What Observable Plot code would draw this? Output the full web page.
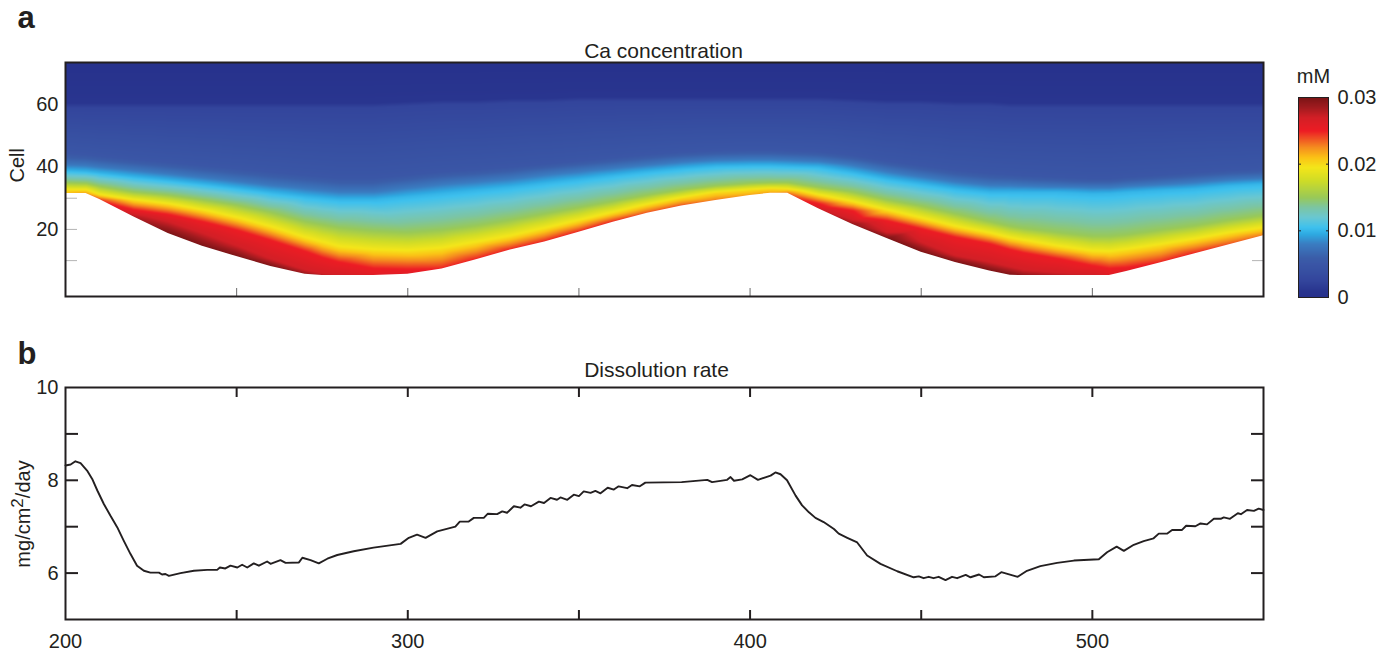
<!DOCTYPE html>
<html><head><meta charset="utf-8">
<script src="https://cdn.jsdelivr.net/npm/d3@7"></script>
<script src="https://cdn.jsdelivr.net/npm/@observablehq/plot@0.6"></script>
<style>
body{margin:0;background:#fff;}
#root{position:relative;width:1397px;height:658px;overflow:hidden;font-family:"Liberation Sans",Arial,Helvetica,sans-serif;color:#231f20}
.abs{position:absolute}
</style></head><body><div id="root"></div>
<script>
// ---------- Panel a: Ca concentration ----------
const colX = [200,206,210,220,230,240,250,260,270,275,280,290,300,310,320,330,340,350,360,370,380,390,400,406,411,420,430,440,450,460,470,476,480,490,500,505,510,520,530,540,550];
// lower edge of the coloured field (cell)
const boundary = [31.5,31.5,29.6,24,18.7,14.6,11.3,8.1,5.6,5.2,5.2,5.2,5.6,7.3,10.3,13.4,16,19.1,22.3,25.2,27.5,29.3,30.9,31.6,31.6,26.6,21.6,17.1,12.7,9.4,6.7,5.3,5.2,5.2,5.2,5.2,6.5,9.3,12.2,15.1,18];
// concentration (mM) at that edge
const boundaryConc = [0.021,0.022,0.024,0.028,0.03,0.03,0.03,0.03,0.029,0.028,0.027,0.026,0.026,0.025,0.025,0.025,0.025,0.025,0.025,0.024,0.024,0.023,0.022,0.022,0.023,0.027,0.029,0.03,0.03,0.03,0.03,0.03,0.029,0.028,0.027,0.026,0.026,0.025,0.025,0.024,0.023];
// heights (cell) where the concentration falls to the given level
const h027 = [null,null,null,24.8,22.5,18.8,14.8,10.5,7,5.8,null,null,null,null,null,null,null,null,null,null,null,null,null,null,null,null,23,19,15.9,11.6,9.5,8,7,6,null,null,null,null,null,null,null];
const h025 = [null,null,null,26.3,24.8,22.5,19.8,16.5,13,11,9.5,7.5,7.2,null,null,null,null,null,null,null,null,null,null,null,null,28.3,26,22.8,20.2,17.5,15.4,13.5,12.5,10.6,8.4,7.5,7.8,null,null,null,null];
const h020 = [32.5,32.5,31,29.3,28,26,23.5,20.5,17,15.5,14,13,12.7,13.5,15.5,17.5,20,22.6,25.2,27.8,30,31.8,32.6,33,32.8,30.9,28.7,26,23.4,20.7,18.6,17,16.2,14.3,12.7,12.5,13.2,14.8,16.6,18.6,20.2];
const h015 = [35,34.8,33.8,32,31,29.5,27.8,25.5,22.5,21.5,20.5,19.5,19,19.8,21.2,23,25,27,29,31,32.7,34,34.8,35,35,33.5,32,29.5,27.5,25,22.5,21,20.3,19,17.8,17.8,18.3,19.8,21.2,23,24.5];
const h010 = [38.8,38.5,38,36.8,35.7,34.5,33.2,31.8,30.5,30,29.5,29.5,30.5,31.5,32.5,33.5,34.8,36,37.3,38.5,39.5,40.3,40.5,40.5,40.3,40,38.3,36.2,34.6,33,31.9,31.9,31.9,31.9,31.4,31.5,31.9,32.5,33,34,34.6];
const h0075 = [41,40.8,40.3,39.3,38.2,37,35.8,34.5,33.5,33,32.5,32.5,33.8,35,35.8,36.7,38,39,40,41,42,42.6,42.8,42.8,42.6,42.2,41,39,37.3,35.7,34.6,34.5,34.3,34,33.8,33.8,34.2,34.8,35.5,36.3,36.7];
const h005 = [44.5,44,43.5,42.5,41.5,40.5,39.5,38.5,37.5,37,36.5,36.5,37.5,38.5,39.2,40,41,42,43,44,44.8,45.3,45.5,45.5,45.3,45,43.8,42,40.5,39,38,37.6,37.3,36.8,36.3,36.3,36.8,37.5,38.3,39,39.4];
const h0025 = [59,59,59,59,59,59,59,59,59,59,59,59,59.5,60,60,60.5,60.5,61,61,61,61,61,61,61,61,61,60.5,60,60,59.5,59.5,59,59,59,59,59,59,59,59,59,59];
const h001 = [60.5,60.5,60.5,60.5,60.5,60.5,60.5,60.5,60.5,60.5,60.5,60.5,61,61.5,61.5,62,62,62.5,62.5,62.5,62.5,62.5,62.5,62.5,62.5,62.5,62,61.5,61.5,61,61,60.5,60.5,60.5,60.5,60.5,60.5,60.5,60.5,60.5,60.5];
const levels = [0.027,0.025,0.02,0.015,0.01,0.0075,0.005,0.0025,0.001];
const levelHeights = [h027,h025,h020,h015,h010,h0075,h005,h0025,h001];
const topCell = 74, topConc = 0.0003;
const cellDomain = [-1.5, 73.5];
const cellTicks = [20,40,60];

// colour map (print jet) and colour-bar ticks
const colorStops = [0,0.001,0.0025,0.004,0.005,0.006,0.008,0.0095,0.0105,0.012,0.0135,0.015,0.0175,0.0195,0.021,0.0225,0.024,0.025,0.027,0.0285,0.03];
const colorHex = ["#26308b","#29358f","#33459c","#3750a2","#3a56a6","#3a5ea9","#3a7cc1","#2eaae2","#3ec1ee","#69c7d2","#7cc5a3","#99c957","#cfdc27","#f4e61a","#fbc216","#f58d1f","#ef4a24","#ed1c24","#d21f26","#a01b1f","#7a1416"];
const barTicks = [0,0.01,0.02,0.03];

// ---------- Panel b: Dissolution rate ----------
const rateX = [200,201.5,202.9,204.4,206.3,207.8,209.3,211.2,213.1,215.1,217,219,220.9,222.9,224.8,227.3,228.2,229.2,230.2,233.6,237.5,241.4,244.3,245.1,246.7,248.2,250.2,251.6,253.1,255,256.5,258.9,259.9,262.8,264.3,268.2,269.2,271.6,274,276.5,279.4,284.2,290,297.9,300.3,302.7,305.2,308.6,313.9,315.2,317.8,319.3,322.2,323.4,326.1,327.6,329,331,332.9,334.1,336,338.3,339.8,341.7,343.6,344.6,346.6,348.5,350,351.4,353.4,354.8,356.3,358.4,360.2,361.6,364.1,365.5,367.8,369.4,380,387.5,388.9,393.3,394.3,395.3,397.7,400.1,402.3,406,407.4,408.9,410.8,413.3,415.2,417.2,419.1,421.5,424.5,425.9,428.4,431.3,434.2,438.1,443,447.8,449.3,450.7,452.2,453.6,455.1,457.1,459,460.5,463,464.4,466.9,468.3,471.7,473.4,478.2,480.9,484.8,489.7,494.6,501.9,504.3,507.1,509.2,512.1,515,517.9,519.4,521.8,523.3,526.2,527.4,530.1,531.6,533.5,535.5,537.5,538.4,540.2,542.5,543.4,545.2,547.2,548.6,550];
const rateY = [8.32,8.34,8.41,8.37,8.21,8.03,7.78,7.49,7.24,6.99,6.7,6.41,6.16,6.05,6.01,6.01,5.97,5.98,5.94,6,6.05,6.07,6.07,6.12,6.1,6.16,6.12,6.18,6.12,6.21,6.16,6.25,6.2,6.28,6.22,6.23,6.33,6.28,6.21,6.31,6.39,6.47,6.55,6.63,6.76,6.83,6.76,6.9,7,7.11,7.11,7.19,7.19,7.28,7.27,7.33,7.3,7.44,7.41,7.48,7.44,7.54,7.51,7.62,7.58,7.63,7.58,7.69,7.66,7.76,7.73,7.77,7.72,7.84,7.8,7.87,7.83,7.9,7.87,7.95,7.96,8.01,7.96,8.01,8.07,7.99,8.02,8.11,8.01,8.1,8.17,8.13,8,7.67,7.46,7.31,7.19,7.1,6.95,6.85,6.76,6.66,6.38,6.2,6.04,5.91,5.93,5.89,5.92,5.89,5.92,5.85,5.92,5.89,5.96,5.91,5.97,5.91,5.93,6.02,5.92,6.05,6.15,6.22,6.27,6.3,6.45,6.57,6.48,6.61,6.69,6.75,6.85,6.85,6.93,6.93,7.02,7.01,7.07,7.05,7.17,7.17,7.2,7.17,7.29,7.27,7.36,7.34,7.39,7.36];
const rateDomain = [5, 10];
const rateTickLabels = [6, 8, 10];
const rateMinorTicks = [6, 7, 8, 9];
const xDomain = [200, 550];
const xTickLabels = [200, 300, 400, 500];
const xMinorTicks = [250, 300, 350, 400, 450, 500];

// ---------- build tables ----------
const heat = [];
colX.forEach((x, i) => {
  heat.push({x, y: boundary[i], v: boundaryConc[i]});
  levels.forEach((v, k) => { const h = levelHeights[k][i]; if (h != null) heat.push({x, y: h, v}); });
  heat.push({x, y: topCell, v: topConc});
});
const edge = colX.map((x, i) => ({x, b: boundary[i]}));
const rate = rateX.map((x, i) => ({x, y: rateY[i]}));

const ink = "#231f20";
const font = '"Liberation Sans", Arial, Helvetica, sans-serif';
const colorScale = {type: "linear", domain: colorStops, range: colorHex, clamp: true};
const root = document.getElementById("root");
function place(node, left, top) { const d = document.createElement("div"); d.className = "abs"; d.style.left = left + "px"; d.style.top = top + "px"; d.appendChild(node); root.appendChild(d); }

const plotA = Plot.plot({
  width: 1280, height: 310, marginLeft: 65, marginRight: 17, marginTop: 62, marginBottom: 14,
  x: {domain: xDomain},
  y: {domain: cellDomain},
  color: colorScale,
  style: {fontFamily: font, fontSize: "20px", color: ink, background: "transparent", overflow: "visible"},
  marks: [
    Plot.raster(heat, {x: "x", y: "y", fill: "v", interpolate: "barycentric", pixelSize: 1}),
    Plot.areaY(edge, {x: "x", y1: cellDomain[0], y2: "b", fill: "white"}),
    Plot.axisY([10, 20, 30], {anchor: "left", tickSize: -12, stroke: "#b4b4b4", fill: "none"}),
    Plot.axisY([10], {anchor: "right", tickSize: -12, stroke: "#b4b4b4", fill: "none"}),
    Plot.axisX(xMinorTicks, {anchor: "bottom", tickSize: -8, stroke: "#6a6a6a", fill: "none"}),
    Plot.axisY(cellTicks, {anchor: "left", tickSize: 0, tickPadding: 7, label: null}),
    Plot.frame({stroke: ink, strokeWidth: 2}),
    Plot.text(["Cell"], {frameAnchor: "left", dx: -48, dy: 3, rotate: -90, fontSize: 20}),
    Plot.text(["Ca concentration"], {frameAnchor: "top", dy: -19, dx: -1, fontSize: 21}),
    Plot.text(["a"], {frameAnchor: "top-left", dx: -48, dy: -35, textAnchor: "start", lineAnchor: "bottom", fontSize: 31, fontWeight: "bold"})
  ]
});
place(plotA, 0, 0);

const bar = Plot.plot({
  width: 117, height: 270, marginLeft: 18, marginRight: 69, marginTop: 57, marginBottom: 13,
  x: {domain: [0, 1], axis: null},
  y: {domain: [0, 0.03]},
  color: colorScale,
  style: {fontFamily: font, fontSize: "20px", color: ink, background: "transparent", overflow: "visible"},
  marks: [
    Plot.raster({fill: (x, y) => y, x1: 0, x2: 1, y1: 0, y2: 0.03, pixelSize: 1}),
    Plot.axisY([0.01, 0.02], {anchor: "left", tickSize: -3, stroke: ink, fill: "none"}),
    Plot.axisY([0.01, 0.02], {anchor: "right", tickSize: -3, stroke: ink, fill: "none"}),
    Plot.axisY(barTicks, {anchor: "right", tickSize: 0, tickPadding: 9, label: null, tickFormat: d => d === 0 ? "0" : d3.format(".2f")(d)}),
    Plot.frame({stroke: ink, strokeWidth: 1}),
    Plot.text(["mM"], {frameAnchor: "top", dy: -29, fontSize: 20})
  ]
});
place(bar, 1280, 40);

const plotB = Plot.plot({
  width: 1280, height: 338, marginLeft: 65, marginRight: 17, marginTop: 67, marginBottom: 39,
  x: {domain: xDomain},
  y: {domain: rateDomain},
  style: {fontFamily: font, fontSize: "20px", color: ink, background: "transparent", overflow: "visible"},
  marks: [
    Plot.line(rate, {x: "x", y: "y", stroke: ink, strokeWidth: 1.9, strokeLinejoin: "round"}),
    Plot.axisY(rateMinorTicks, {anchor: "left", tickSize: -13, strokeWidth: 2, stroke: ink, fill: "none"}),
    Plot.axisY(rateMinorTicks, {anchor: "right", tickSize: -13, strokeWidth: 2, stroke: ink, fill: "none"}),
    Plot.axisX(xMinorTicks, {anchor: "bottom", tickSize: -9, strokeWidth: 2, stroke: ink, fill: "none"}),
    Plot.axisX(xMinorTicks, {anchor: "top", tickSize: -9, strokeWidth: 2, stroke: ink, fill: "none"}),
    Plot.axisY(rateTickLabels, {anchor: "left", tickSize: 0, tickPadding: 7, label: null}),
    Plot.axisX(xTickLabels, {anchor: "bottom", tickSize: 0, tickPadding: 14, label: null}),
    Plot.frame({stroke: ink, strokeWidth: 2}),
    Plot.text(["Dissolution rate"], {frameAnchor: "top", dy: -25, dx: -8, fontSize: 21}),
    Plot.text(["b"], {frameAnchor: "top-left", dx: -48, dy: -24, textAnchor: "start", lineAnchor: "bottom", fontSize: 31, fontWeight: "bold"})
  ]
});
place(plotB, 0, 320);

const yl = document.createElement("div");
yl.className = "abs";
yl.style.cssText = "left:21px;top:514px;transform:translate(-50%,-50%) rotate(-90deg);font-size:20px;white-space:nowrap;line-height:1";
yl.innerHTML = 'mg/cm<span style="font-size:0.85em;vertical-align:0.42em">2</span>/day';
root.appendChild(yl);
</script>
</body></html>
